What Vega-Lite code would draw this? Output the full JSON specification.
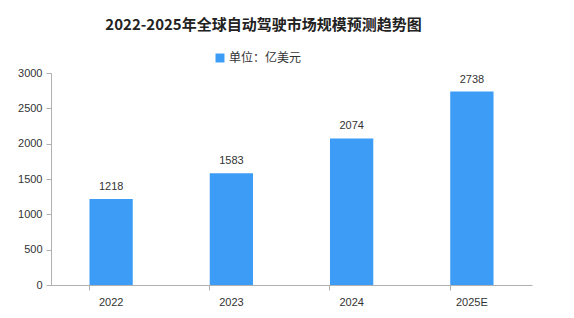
{
  "$schema": "https://vega.github.io/schema/vega-lite/v6.json",
  "width": 481,
  "height": 212,
  "autosize": {"type": "none"},
  "padding": {"left": 51, "top": 73, "right": 42, "bottom": 33},
  "background": "white",
  "title": {
    "text": "2022-2025年全球自动驾驶市场规模预测趋势图",
    "font": "Noto Sans CJK SC",
    "fontSize": 15,
    "fontWeight": "bold",
    "color": "#222222",
    "anchor": "middle",
    "frame": "group",
    "dx": -28,
    "offset": 19
  },
  "data": {
    "values": [
      {"year": "2022", "value": 1218, "series": "单位：亿美元"},
      {"year": "2023", "value": 1583, "series": "单位：亿美元"},
      {"year": "2024", "value": 2074, "series": "单位：亿美元"},
      {"year": "2025E", "value": 2738, "series": "单位：亿美元"}
    ]
  },
  "encoding": {
    "x": {
      "field": "year",
      "type": "nominal",
      "sort": null,
      "scale": {"paddingInner": 0.64, "paddingOuter": 0.32},
      "axis": {
        "title": null,
        "labelAngle": 0,
        "labelFont": "Liberation Sans",
        "labelFontSize": 11,
        "labelColor": "#333333",
        "labelPadding": 6,
        "domainColor": "#b0b0b0",
        "tickColor": "#b0b0b0",
        "tickSize": 5,
        "bandPosition": 0
      }
    },
    "y": {
      "field": "value",
      "type": "quantitative",
      "scale": {"domain": [0, 3000]},
      "axis": {
        "title": null,
        "format": "d",
        "values": [0, 500, 1000, 1500, 2000, 2500, 3000],
        "grid": false,
        "labelFont": "Liberation Sans",
        "labelFontSize": 11,
        "labelColor": "#333333",
        "labelPadding": 4,
        "domainColor": "#b0b0b0",
        "tickColor": "#b0b0b0",
        "tickSize": 5
      }
    }
  },
  "layer": [
    {
      "mark": {"type": "bar", "color": "#3d9cf5"},
      "encoding": {
        "color": {
          "field": "series",
          "type": "nominal",
          "scale": {"range": ["#3d9cf5"]},
          "legend": {
            "title": null,
            "orient": "none",
            "legendX": 163,
            "legendY": -21,
            "symbolType": "square",
            "symbolSize": 80,
            "symbolStrokeWidth": 0,
            "labelFont": "Noto Sans CJK SC",
            "labelFontSize": 12,
            "labelColor": "#333333",
            "labelOffset": 3
          }
        }
      }
    },
    {
      "mark": {
        "type": "text",
        "baseline": "bottom",
        "dy": -7,
        "font": "Liberation Sans",
        "fontSize": 11,
        "color": "#333333"
      },
      "encoding": {
        "text": {"field": "value", "type": "quantitative"}
      }
    }
  ],
  "config": {"view": {"stroke": null}}
}
